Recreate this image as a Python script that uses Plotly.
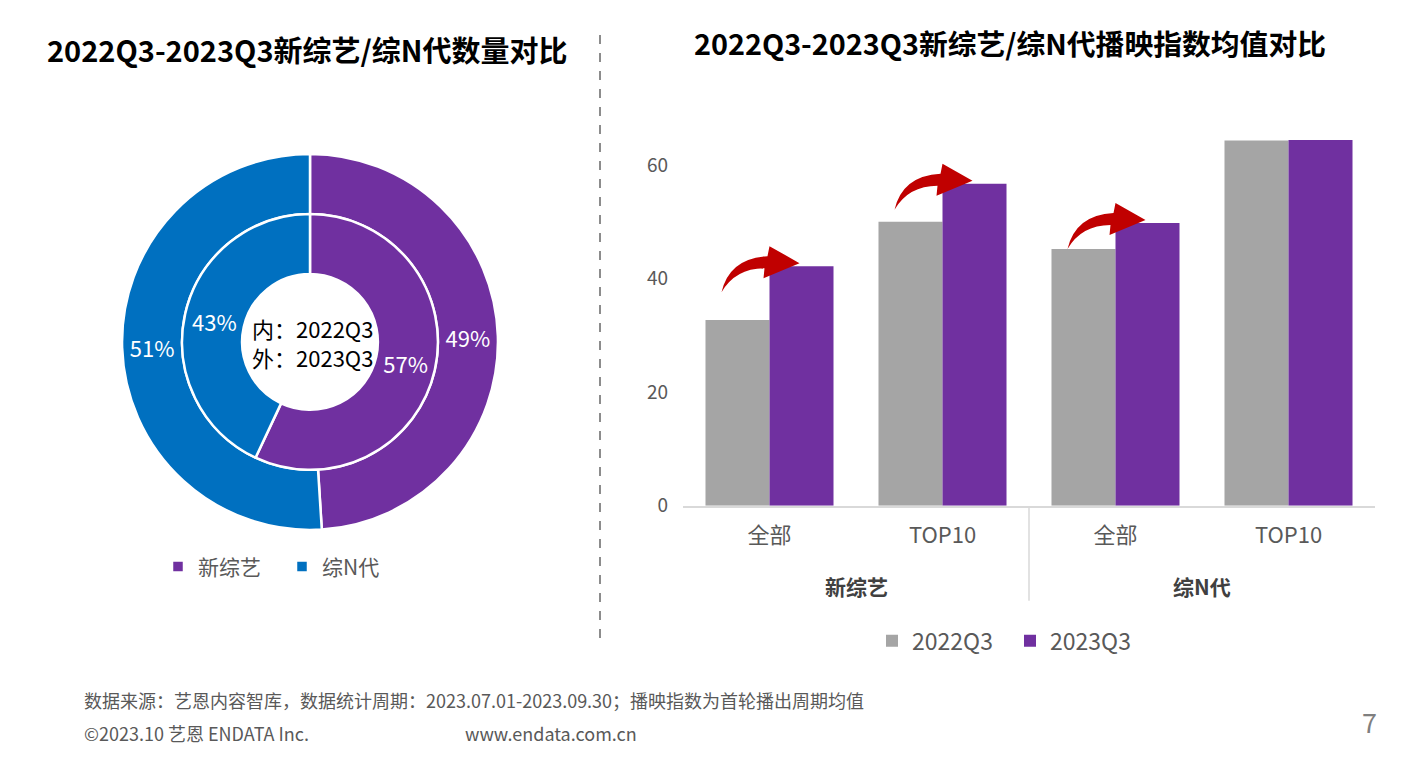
import plotly.graph_objects as go

# ---------------- data ----------------
pie_labels = ["新综艺", "综N代"]
pie_inner_2022q3 = [57, 43]
pie_outer_2023q3 = [49, 51]

bar_groups = ["新综艺", "新综艺", "综N代", "综N代"]
bar_subcats = ["全部", "TOP10", "全部", "TOP10"]
vals_2022q3 = [32.7, 50.0, 45.2, 64.3]
vals_2023q3 = [42.2, 56.7, 49.8, 64.4]
y_ticks = [0, 20, 40, 60]

title_left = "2022Q3-2023Q3新综艺/综N代数量对比"
title_right = "2022Q3-2023Q3新综艺/综N代播映指数均值对比"
center_lines = ["内：2022Q3", "外：2023Q3"]
footer_source = "数据来源：艺恩内容智库，数据统计周期：2023.07.01-2023.09.30；播映指数为首轮播出周期均值"
footer_copy = "©2023.10 艺恩 ENDATA Inc."
footer_web = "www.endata.com.cn"
page_no = "7"

# ---------------- styles ----------------
PURPLE = "#7030A0"
BLUE = "#0070C0"
GRAY = "#A5A5A5"
RED = "#C00000"
TXT = "#595959"
CJK = "Noto Sans CJK SC"

OFF = 8                      # page body margin
W, H = 1404 - 2 * OFF, 766 - 2 * OFF
S = 766 / 778                # vertical capture factor


def px(x):
    return (x - OFF) / W


def pyp(page_y):
    return 1 - (page_y - OFF) / H


def py(y):
    return pyp(y / S)


fig = go.Figure()

# ---------------- donut ----------------
cx, cy = 310, 342
r_out, r_in, r_hole = 191, 130, 69
cyp = cy / S

pie_common = dict(sort=False, direction="clockwise", rotation=0,
                  texttemplate="%{percent:.0%}", textposition="inside",
                  insidetextorientation="horizontal",
                  insidetextfont=dict(color="white", size=22, family=CJK),
                  legend="legend2", hoverinfo="label+percent")

fig.add_trace(go.Pie(
    labels=pie_labels, values=pie_outer_2023q3, hole=r_in / r_out,
    domain=dict(x=[px(cx - r_out), px(cx + r_out)], y=[pyp(cyp + r_out), pyp(cyp - r_out)]),
    marker=dict(colors=[PURPLE, BLUE], line=dict(color="white", width=2.5)),
    **pie_common,
))
fig.add_trace(go.Pie(
    labels=pie_labels, values=pie_inner_2022q3, hole=r_hole / r_in,
    domain=dict(x=[px(cx - r_in), px(cx + r_in)], y=[pyp(cyp + r_in), pyp(cyp - r_in)]),
    marker=dict(colors=[PURPLE, BLUE], line=dict(color="white", width=2.5)),
    showlegend=False, **pie_common,
))

# ---------------- bars ----------------
xi = list(range(len(bar_subcats)))
fig.add_trace(go.Bar(x=xi, y=vals_2022q3, name="2022Q3", marker=dict(color=GRAY, line=dict(width=0))))
fig.add_trace(go.Bar(x=xi, y=vals_2023q3, name="2023Q3", marker=dict(color=PURPLE, line=dict(width=0))))

shapes = []
annotations = []


def note(x, y, text, size, color, xanchor="center", align="center"):
    annotations.append(dict(x=px(x), y=py(y), xref="paper", yref="paper", xanchor=xanchor,
                            yanchor="middle", text=text, align=align, showarrow=False,
                            font=dict(size=size, color=color, family=CJK)))


# curved growth arrows (pixel-sized path anchored at the 2023Q3 bar top)
arrow_path = "M 30,3 L 0,20 L -2,10 Q -40,8 -48,-26 Q -34,-2 -5,-2 L -6,-12 Z"
for i, (a, b) in enumerate(zip(vals_2022q3, vals_2023q3)):
    if b - a > 1:
        shapes.append(dict(type="path", xref="x", yref="y", xsizemode="pixel", ysizemode="pixel",
                           xanchor=i, yanchor=b, path=arrow_path,
                           fillcolor=RED, line=dict(width=0)))

# group labels and divider
groups = []
for g in bar_groups:
    if g not in groups:
        groups.append(g)
for gi, g in enumerate(groups):
    idx = [i for i, gg in enumerate(bar_groups) if gg == g]
    annotations.append(dict(x=sum(idx) / len(idx), y=py(586), xref="x", yref="paper",
                            xanchor="center", yanchor="middle",
                            text="<b>" + g + "</b>", showarrow=False,
                            font=dict(size=21, color="#404040", family=CJK)))
    if gi > 0:
        shapes.append(dict(type="line", xref="x", yref="paper", x0=idx[0] - 0.5, x1=idx[0] - 0.5,
                           y0=py(507), y1=py(601), line=dict(color="#D9D9D9", width=1.5)))

# dashed separator
shapes.append(dict(type="line", xref="paper", yref="paper", x0=px(600), x1=px(600),
                   y0=py(35), y1=py(645), line=dict(color="#8C8C8C", width=2, dash="dash")))

# titles
note(307, 49, "<b>" + title_left + "</b>", 29, "black")
note(1010, 42, "<b>" + title_right + "</b>", 28.8, "black")
# donut centre
note(cx + 2, cy + 1, "<br>".join(center_lines), 22, "black", align="left")
# footer
note(82, 700, footer_source, 18, TXT, xanchor="left")
note(82, 733, footer_copy, 18, TXT, xanchor="left")
note(463, 733, footer_web, 18, TXT, xanchor="left")
note(1369, 722, page_no, 27, "#7F7F7F")

y0p, y60p = py(506), py(165)
ymax = 70
ytop = y0p + ymax * (y60p - y0p) / 60

fig.update_layout(
    width=W, height=H, margin=dict(l=0, r=0, t=0, b=0),
    paper_bgcolor="white", plot_bgcolor="white",
    barmode="group", bargap=0.26, bargroupgap=0,
    xaxis=dict(domain=[px(683), px(1375)], range=[-0.5, len(xi) - 0.5], tickvals=xi, ticktext=bar_subcats,
               showgrid=False, zeroline=False, showline=True, linecolor="#D9D9D9", linewidth=2,
               ticks="", ticklabelstandoff=9, tickfont=dict(size=22, color=TXT, family=CJK),
               fixedrange=True),
    yaxis=dict(domain=[y0p, ytop], range=[0, ymax], tickvals=y_ticks, showgrid=False, zeroline=False,
               showline=False, ticks="", ticklabelstandoff=14,
               tickfont=dict(size=19, color=TXT, family=CJK), fixedrange=True),
    legend=dict(orientation="h", x=px(1010), xanchor="center", y=py(641), yanchor="middle",
                font=dict(size=23, color=TXT, family=CJK), traceorder="normal",
                entrywidth=93, entrywidthmode="pixels"),
    legend2=dict(orientation="h", x=px(282), xanchor="center", y=py(567), yanchor="middle",
                 font=dict(size=21, color=TXT, family=CJK), traceorder="normal",
                 entrywidth=79, entrywidthmode="pixels"),
    shapes=shapes, annotations=annotations,
    showlegend=True,
)

fig.write_html("out.html")
